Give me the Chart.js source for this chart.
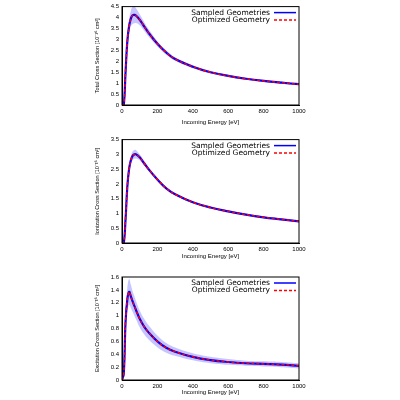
<!DOCTYPE html><html><head><script src="https://cdn.jsdelivr.net/npm/chart.js"></script>
<style>body{margin:0;width:400px;height:400px;background:#fff;position:relative}canvas{position:absolute;left:0}</style></head><body>
<canvas id="c1" style="top:0px" width="400" height="133"></canvas>
<canvas id="c2" style="top:133px" width="400" height="136"></canvas>
<canvas id="c3" style="top:269px" width="400" height="131"></canvas>
<script>
const energy=[0,10,20,30,40,50,60,70,80,100,125,150,200,250,300,400,500,600,700,800,900,1000];
const totalCS=[0,0,1.5,2.9,3.6,3.95,4.1,4.12,4.08,3.9,3.6,3.3,2.8,2.4,2.1,1.75,1.5,1.33,1.2,1.1,1.02,0.95];
const totalBand=[0,0,0.1,0.2,0.3,0.35,0.4,0.38,0.33,0.25,0.2,0.17,0.12,0.1,0.08,0.07,0.06,0.05,0.05,0.05,0.05,0.05];
const ionCS=[0,0,0.8,1.9,2.5,2.8,2.95,3.0,3.0,2.9,2.7,2.5,2.15,1.85,1.65,1.38,1.2,1.07,0.96,0.87,0.8,0.73];
const ionBand=[0,0,0.05,0.1,0.12,0.14,0.15,0.15,0.14,0.1,0.08,0.06,0.05,0.04,0.03,0.03,0.03,0.03,0.03,0.03,0.03,0.03];
const excCS=[0,0.1,0.9,1.25,1.37,1.3,1.22,1.15,1.08,0.95,0.83,0.74,0.6,0.5,0.44,0.36,0.31,0.28,0.26,0.25,0.24,0.22];
const excBand=[0,0.05,0.14,0.18,0.2,0.18,0.16,0.15,0.14,0.13,0.12,0.11,0.09,0.075,0.065,0.055,0.05,0.045,0.04,0.04,0.04,0.04];
const xTicks=[0,200,400,600,800,1000];
function mk(id,vals,band,ymax,ystep,ytitle,top,xh,bot){
  const lo=vals.map((v,i)=>v-band[i]), hi=vals.map((v,i)=>v+band[i]);
  const pts=a=>energy.map((e,i)=>({x:e,y:a[i]}));
  new Chart(document.getElementById(id),{type:'line',data:{datasets:[
    {data:pts(hi),borderWidth:0,pointRadius:0,fill:'+1',backgroundColor:'rgba(150,150,255,0.55)',tension:0.4,order:4},
    {data:pts(lo),borderWidth:0,pointRadius:0,fill:false,tension:0.4,order:3},
    {data:pts(vals),borderColor:'#0000ff',borderWidth:2.2,pointRadius:0,fill:false,tension:0.4,order:2},
    {data:pts(vals),borderColor:'#ff0000',borderWidth:1.5,borderDash:[3,2],pointRadius:0,fill:false,tension:0.4,order:1}
  ]},options:{responsive:false,animation:false,layout:{padding:{left:93,right:101,top:top,bottom:bot}},
   plugins:{legend:{display:false},tooltip:{enabled:false}},
   scales:{x:{type:'linear',min:0,max:1000,afterFit:s=>{s.height=xh},afterBuildTicks:s=>{s.ticks=xTicks.map(v=>({value:v}))},
     grid:{display:false,drawTicks:false},border:{color:'#000'},ticks:{color:'#000',font:{size:6},padding:3,callback:v=>String(v)},
     title:{display:true,text:'Incoming Energy [eV]',font:{size:6},color:'#000',padding:1}},
    y:{min:0,max:ymax,afterFit:s=>{s.width=29},grid:{display:false,drawTicks:false},border:{color:'#000'},
     ticks:{stepSize:ystep,color:'#000',font:{size:6},padding:3,callback:v=>String(+v.toFixed(1))},
     title:{display:true,text:ytitle,font:{size:5.5},color:'#000',padding:1}}}},
   plugins:[{id:'box',afterDraw(c){const a=c.chartArea,x=c.ctx;x.save();x.strokeStyle='#000';x.lineWidth=1;x.setLineDash([]);x.strokeRect(a.left,a.top,a.right-a.left,a.bottom-a.top);
     x.font='7.5px DejaVu Sans';x.textAlign='right';x.textBaseline='middle';x.fillStyle='#000';
     const r=[['Sampled Geometries','#0000ff',[]],['Optimized Geometry','#ff0000',[3,2]]];
     r.forEach((it,i)=>{const y=a.top+6+i*7.5;x.fillText(it[0],a.right-29,y);x.beginPath();x.setLineDash(it[2]);x.strokeStyle=it[1];x.lineWidth=1.5;x.moveTo(a.right-25,y);x.lineTo(a.right-3,y);x.stroke();});
     x.restore();}}]});
}
mk('c1',totalCS,totalBand,4.5,0.5,'Total Cross Section [10\u207B\u00B9\u2076 cm\u00B2]',2,22,6);
mk('c2',ionCS,ionBand,3.5,0.5,'Ionization Cross Section [10\u207B\u00B9\u2076 cm\u00B2]',6,18,8);
mk('c3',excCS,excBand,1.6,0.2,'Excitation Cross Section [10\u207B\u00B9\u2076 cm\u00B2]',8,17,3);
</script></body></html>
